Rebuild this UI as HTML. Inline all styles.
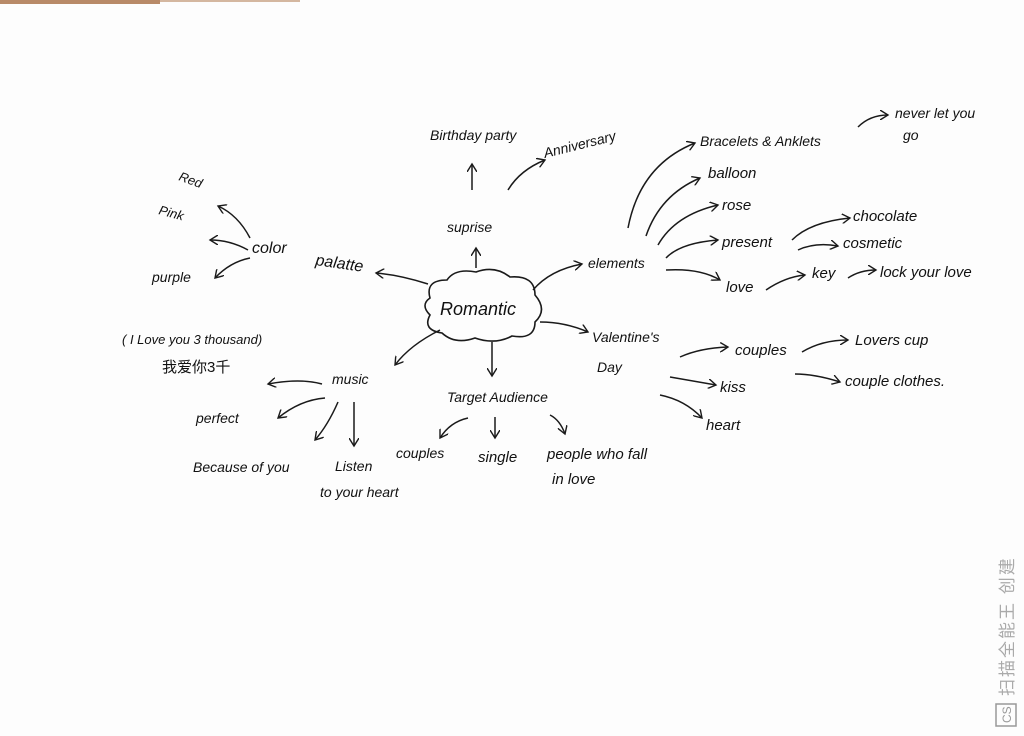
<!DOCTYPE html>
<html><head><meta charset="utf-8"><style>
html,body{margin:0;padding:0;background:#fdfdfd;}
svg{display:block}
text{font-family:"Liberation Sans","Noto Sans CJK SC",sans-serif;fill:#111;font-style:italic}
</style></head><body>
<svg width="1024" height="736" viewBox="0 0 1024 736" xmlns="http://www.w3.org/2000/svg">
<defs>
<marker id="a" markerWidth="10" markerHeight="10" refX="8" refY="5" orient="auto" markerUnits="userSpaceOnUse">
<path d="M0,0 L8,5 L0,10" fill="none" stroke="#1a1a1a" stroke-width="1.4"/></marker>
</defs>
<rect width="1024" height="736" fill="#fdfdfd"/>
<rect x="0" y="0" width="160" height="4" fill="#b88a68"/>
<rect x="160" y="0" width="140" height="2" fill="#d4b7a0"/>
<g fill="none" stroke="#1a1a1a" stroke-width="1.5" marker-end="url(#a)">
<path d="M428,284 Q400,275 376,273"/>
<path d="M476,268 L476,248"/>
<path d="M472,190 L472,164"/>
<path d="M508,190 Q520,170 545,160"/>
<path d="M533,290 Q550,270 582,264"/>
<path d="M540,322 Q565,322 588,332"/>
<path d="M492,342 L492,376"/>
<path d="M440,330 Q410,345 395,365"/>
<path d="M250,238 Q238,215 218,206"/>
<path d="M248,250 Q230,240 210,240"/>
<path d="M250,258 Q230,262 215,278"/>
<path d="M628,228 Q640,165 695,143"/>
<path d="M646,236 Q660,195 700,178"/>
<path d="M658,245 Q675,215 718,205"/>
<path d="M666,258 Q680,243 718,240"/>
<path d="M666,270 Q700,268 720,280"/>
<path d="M858,127 Q870,115 888,115"/>
<path d="M792,240 Q810,222 850,218"/>
<path d="M798,250 Q815,242 838,246"/>
<path d="M766,290 Q785,277 805,275"/>
<path d="M848,278 Q860,270 876,270"/>
<path d="M680,357 Q700,348 728,347"/>
<path d="M670,377 L716,385"/>
<path d="M660,395 Q685,400 702,418"/>
<path d="M802,352 Q822,340 848,340"/>
<path d="M795,374 Q815,374 840,382"/>
<path d="M468,418 Q450,422 440,438"/>
<path d="M495,417 L495,438"/>
<path d="M550,415 Q560,420 565,434"/>
<path d="M322,384 Q300,378 268,384"/>
<path d="M325,398 Q300,400 278,418"/>
<path d="M338,402 Q328,425 315,440"/>
<path d="M354,402 L354,446"/>
</g>
<path d="M430,298 Q425,280 447,280 Q455,268 476,272 Q495,265 510,277 Q535,275 535,295 Q548,310 535,322 Q535,340 512,336 Q495,345 475,338 Q455,345 442,333 Q422,330 430,315 Q420,305 430,298 Z" fill="none" stroke="#1a1a1a" stroke-width="1.6"/>
<g font-size="16">
<text x="440" y="315" font-size="18">Romantic</text>
<text x="252" y="253">color</text>
<text x="315" y="265" transform="rotate(8 315 265)">palatte</text>
<text x="178" y="180" font-size="13" transform="rotate(20 178 180)">Red</text>
<text x="158" y="214" font-size="13" transform="rotate(15 158 214)">Pink</text>
<text x="152" y="282" font-size="14">purple</text>
<text x="447" y="232" font-size="14">suprise</text>
<text x="430" y="140" font-size="14">Birthday party</text>
<text x="545" y="158" font-size="14" transform="rotate(-14 545 158)">Anniversary</text>
<text x="588" y="268" font-size="14">elements</text>
<text x="700" y="146" font-size="14">Bracelets &amp; Anklets</text>
<text x="895" y="118" font-size="14">never let you</text>
<text x="903" y="140" font-size="14">go</text>
<text x="708" y="178" font-size="15">balloon</text>
<text x="722" y="210" font-size="15">rose</text>
<text x="722" y="247" font-size="15">present</text>
<text x="726" y="292" font-size="15">love</text>
<text x="853" y="221" font-size="15">chocolate</text>
<text x="843" y="248" font-size="15">cosmetic</text>
<text x="812" y="278" font-size="15">key</text>
<text x="880" y="277" font-size="15">lock your love</text>
<text x="592" y="342" font-size="14">Valentine's</text>
<text x="597" y="372" font-size="14">Day</text>
<text x="735" y="355" font-size="15">couples</text>
<text x="855" y="345" font-size="15">Lovers cup</text>
<text x="845" y="386" font-size="15">couple clothes.</text>
<text x="720" y="392" font-size="15">kiss</text>
<text x="706" y="430" font-size="15">heart</text>
<text x="447" y="402" font-size="14">Target Audience</text>
<text x="396" y="458" font-size="14">couples</text>
<text x="478" y="462" font-size="15">single</text>
<text x="547" y="459" font-size="15">people who fall</text>
<text x="552" y="484" font-size="15">in love</text>
<text x="332" y="384" font-size="14">music</text>
<text x="122" y="344" font-size="13">( I Love you 3 thousand)</text>
<text x="162" y="372" font-size="15" style="font-style:normal">我爱你3千</text>
<text x="196" y="423" font-size="14">perfect</text>
<text x="193" y="472" font-size="14">Because of you</text>
<text x="335" y="471" font-size="14">Listen</text>
<text x="320" y="497" font-size="14">to your heart</text>
</g>
<g transform="translate(1007,726) rotate(-90)">
<rect x="0" y="-11" width="22" height="20" fill="none" stroke="#999" stroke-width="1.5"/>
<text x="3" y="4" font-size="12" style="fill:#999;font-style:normal">CS</text>
<text x="30" y="6" font-size="17" letter-spacing="2" style="fill:#aaa;font-style:normal">扫描全能王 创建</text>
</g>
</svg>
</body></html>
